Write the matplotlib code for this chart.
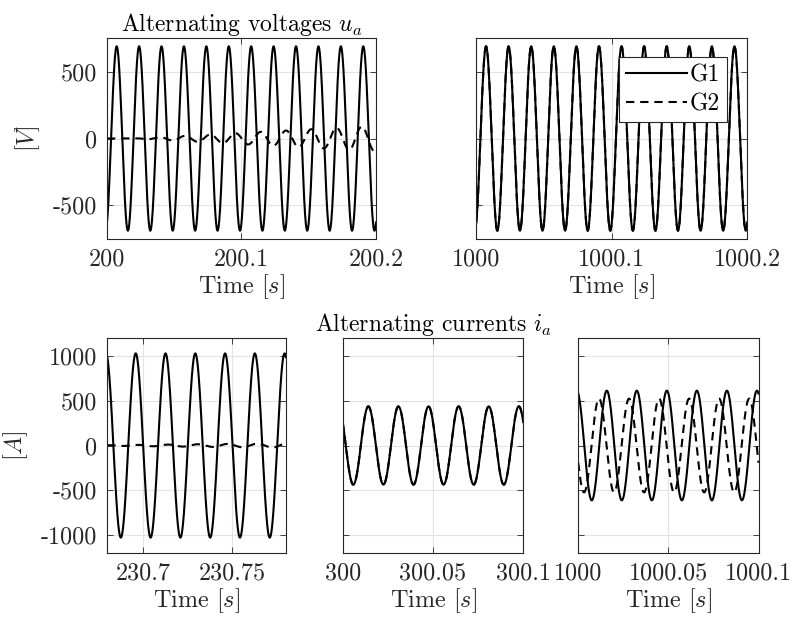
import numpy as np
import matplotlib.pyplot as plt

plt.rcParams['font.family'] = 'serif'
plt.rcParams['font.serif'] = ['cmr10']
plt.rcParams['mathtext.fontset'] = 'cm'
plt.rcParams['axes.unicode_minus'] = False
plt.rcParams['font.size'] = 17.4

# time windows of the five panels [s]
win_u1 = [200.0, 200.2]
win_u2 = [1000.0, 1000.2]
win_i1 = [230.68, 230.78]
win_i2 = [300.0, 300.1]
win_i3 = [1000.0, 1000.1]

# tick labels
u_yticks = [-500, 0, 500]
i_yticks = [-1000, -500, 0, 500, 1000]
xt_u1 = [200.0, 200.1, 200.2]
xt_u2 = [1000.0, 1000.1, 1000.2]
xt_i1 = [230.7, 230.75]
xt_i2 = [300.0, 300.05, 300.1]
xt_i3 = [1000.0, 1000.05, 1000.1]
xl_u1 = ['200', '200.1', '200.2']
xl_u2 = ['1000', '1000.1', '1000.2']
xl_i1 = ['230.7', '230.75']
xl_i2 = ['300', '300.05', '300.1']
xl_i3 = ['1000', '1000.05', '1000.1']

# sine waves: amplitude, frequency [Hz], time of a crest [s]
g1_u1 = [690, 60.0, 200.0072]
g1_u2 = [690, 60.0, 1000.0072]
g1_i1 = [1031, 60.0, 230.6959]
g1_i2 = [438, 60.0, 300.0142]
g1_i3 = [614, 60.0, 1000.0158]
g2_u2 = g1_u2
g2_i2 = g1_i2
g2_i3 = [525, 60.0, 1000.0115]
# G2 while it is still coming up: amplitude at ramp start / window end, ramp start, frequency, crest
g2_u1 = [0, 95, 200.02, 53.2, 200.133]
g2_i1 = [3, 25, 230.68, 60.0, 230.7639]


def wave(t, p):
    amp, f, tc = p
    return amp * np.cos(2 * np.pi * f * (t - tc))


def ramp_wave(t, p, t_end):
    a0, a1, ts, f, tc = p
    amp = np.clip(a0 + (a1 - a0) * (t - ts) / (t_end - ts), 0, None)
    amp[t < ts] = a0
    return amp * np.cos(2 * np.pi * f * (t - tc))


def style(ax, xt, xl, yt, ylim, left_labels):
    ax.set_ylim(ylim)
    ax.set_xticks(xt)
    ax.set_xticklabels(xl)
    ax.set_yticks(yt)
    if left_labels:
        ax.set_yticklabels([str(v) for v in yt])
    else:
        ax.tick_params(labelleft=False)
    ax.grid(True, color='#e3e3e3', lw=0.8)
    ax.set_axisbelow(True)
    ax.tick_params(direction='in', top=True, right=True, length=4, width=0.6,
                   colors='#262626', labelcolor='#262626', pad=7)
    for s in ax.spines.values():
        s.set_color('#262626')
        s.set_linewidth(0.8)
    ax.set_xlabel('Time [$s$]', labelpad=1, color='#262626')


fig = plt.figure(figsize=(7.92, 6.2), dpi=100)
W, H = 792, 620


def add(x0, x1, y0, y1):
    return fig.add_axes([x0 / W, 1 - y1 / H, (x1 - x0) / W, (y1 - y0) / H])


ax1 = add(107, 376, 38.3, 238.7)
ax2 = add(476.3, 747.3, 38.3, 238.7)
ax3 = add(107.3, 286, 338.3, 552.7)
ax4 = add(342.7, 523.3, 338.3, 552.7)
ax5 = add(578.3, 758.5, 338.3, 552.7)

lw = 1.5
dash = (0, (4.0, 2.8))

t = np.linspace(win_u1[0], win_u1[1], 3000)
ax1.plot(t, wave(t, g1_u1), color='k', lw=lw)
ax1.plot(t, ramp_wave(t, g2_u1, win_u1[1]), color='k', lw=lw, ls=dash)
ax1.set_xlim(win_u1)
style(ax1, xt_u1, xl_u1, u_yticks, [-750, 750], True)
ax1.set_ylabel('[$V$]', color='#262626', labelpad=8)
ax1.set_title('Alternating voltages $u_a$', pad=5, color='k', fontsize=17)

t = np.linspace(win_u2[0], win_u2[1], 3000)
ax2.plot(t, wave(t, g1_u2), color='k', lw=lw, label='G1')
ax2.plot(t, wave(t, g2_u2), color='k', lw=lw, ls=dash, label='G2')
ax2.set_xlim(win_u2)
style(ax2, xt_u2, xl_u2, u_yticks, [-750, 750], False)
leg = ax2.legend(loc='upper right', bbox_to_anchor=(0.925, 0.907), borderaxespad=0,
                 fancybox=False, framealpha=1, edgecolor='#262626',
                 handlelength=2.6, handletextpad=0.1, labelspacing=0.3,
                 borderpad=0.3, fontsize=17)
leg.get_frame().set_linewidth(0.8)

t = np.linspace(win_i1[0], win_i1[1], 3000)
ax3.plot(t, wave(t, g1_i1), color='k', lw=lw)
ax3.plot(t, ramp_wave(t, g2_i1, win_i1[1]), color='k', lw=lw, ls=dash)
ax3.set_xlim(win_i1)
style(ax3, xt_i1, xl_i1, i_yticks, [-1200, 1200], True)
ax3.set_ylabel('[$A$]', color='#262626', labelpad=8)

t = np.linspace(win_i2[0], win_i2[1], 3000)
ax4.plot(t, wave(t, g1_i2), color='k', lw=lw)
ax4.plot(t, wave(t, g2_i2), color='k', lw=lw, ls=dash)
ax4.set_xlim(win_i2)
style(ax4, xt_i2, xl_i2, i_yticks, [-1200, 1200], False)
ax4.set_title('Alternating currents $i_a$', pad=5, color='k', fontsize=17)

t = np.linspace(win_i3[0], win_i3[1], 3000)
ax5.plot(t, wave(t, g1_i3), color='k', lw=lw)
ax5.plot(t, wave(t, g2_i3), color='k', lw=lw, ls=dash)
ax5.set_xlim(win_i3)
style(ax5, xt_i3, xl_i3, i_yticks, [-1200, 1200], False)

fig.savefig('out.png', dpi=100)
